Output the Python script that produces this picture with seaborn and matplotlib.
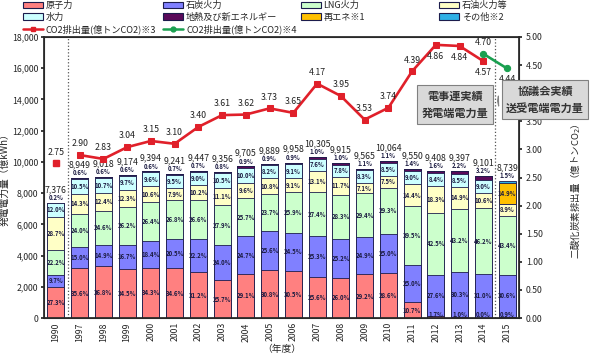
import numpy as np
import matplotlib
matplotlib.use("Agg")
import matplotlib.pyplot as plt
import seaborn as sns
from matplotlib.patches import Patch
from matplotlib.lines import Line2D
from matplotlib.ticker import FuncFormatter

# ---------------- Data ---------------- #
years = ["1990", "1997", "1998", "1999", "2000", "2001", "2002", "2003", "2004", "2005",
         "2006", "2007", "2008", "2009", "2010", "2011", "2012", "2013", "2014", "2015"]
totals = [7376, 8949, 9018, 9174, 9394, 9241, 9447, 9356, 9705, 9889,
          9958, 10305, 9915, 9565, 10064, 9550, 9408, 9397, 9101, 8739]

# share of generation (%)
nuclear = [27.3, 35.6, 36.8, 34.5, 34.3, 34.6, 31.2, 25.7, 29.1, 30.8,
           30.5, 25.6, 26.0, 29.2, 28.6, 10.7, 1.7, 1.0, 0.0, 0.9]
coal = [9.7, 15.0, 14.9, 16.7, 18.4, 20.5, 22.2, 24.0, 24.7, 25.6,
        24.5, 25.3, 25.2, 24.9, 25.0, 25.0, 27.6, 30.3, 31.0, 30.6]
lng = [22.2, 24.0, 24.6, 26.2, 26.4, 26.8, 26.6, 27.9, 25.7, 23.7,
       25.9, 27.4, 28.3, 29.4, 29.3, 39.5, 42.5, 43.2, 46.2, 43.4]
oil = [28.7, 14.3, 12.4, 12.3, 10.6, 7.9, 10.2, 11.1, 9.6, 10.8,
       9.1, 13.1, 11.7, 7.1, 7.5, 14.4, 18.3, 14.9, 10.6, 8.9]
hydro = [12.0, 10.5, 10.7, 9.7, 9.6, 9.5, 9.0, 10.5, 10.0, 8.2,
         9.1, 7.6, 7.8, 8.3, 8.5, 9.0, 8.4, 8.5, 9.0, 0.0]
geo_new = [0.2, 0.6, 0.6, 0.6, 0.6, 0.7, 0.7, 0.8, 0.9, 0.9,
           0.9, 1.0, 1.0, 1.1, 1.1, 1.4, 1.6, 2.2, 3.2, 0.0]
renew = [0.0] * 19 + [14.9]
other = [0.0] * 19 + [1.5]

# CO2 emissions (100 million t-CO2)
co2_fepc = [2.75, 2.90, 2.83, 3.04, 3.15, 3.10, 3.40, 3.61, 3.62, 3.73,
            3.65, 4.17, 3.95, 3.53, 3.74, 4.39, 4.86, 4.84, 4.57]
co2_council_years = ["2014", "2015"]
co2_council = [4.70, 4.44]

layer_names = ["原子力", "石炭火力", "LNG火力", "石油火力等", "水力",
               "地熱及び新エネルギー", "再エネ※1", "その他※2"]
layer_pcts = [nuclear, coal, lng, oil, hydro, geo_new, renew, other]
layer_colors = ["#ff8080", "#8080ff", "#ccffcc", "#ffffc6", "#ccffff",
                "#5a0a5a", "#ffc000", "#2fb0e6"]
edge = "#1c1c4c"

# ---------------- Style ---------------- #
sns.set_theme(style="white")
plt.rcParams["font.family"] = ["Noto Sans CJK JP", "DejaVu Sans"]

fig = plt.figure(figsize=(5.9, 3.57), dpi=100)
ax = fig.add_axes([0.0746, 0.1092, 0.805, 0.7872])

n = len(years)
pos = np.arange(n)
tot = np.array(totals, dtype=float)

# cumulative heights per layer
cums = []
cum = np.zeros(n)
for pct in layer_pcts:
    cum = cum + tot * np.array(pct) / 100.0
    cums.append(cum.copy())

# draw from the top layer down so lower layers overlay
for color, c in reversed(list(zip(layer_colors, cums))):
    sns.barplot(x=years, y=c, order=years, color=color, saturation=1,
                width=0.72, edgecolor=edge, linewidth=0.6, ax=ax)

ax.set_xlim(-0.5, n - 0.5)
ax.set_ylim(0, 18000)
ax.set_yticks(np.arange(0, 18001, 2000))
ax.yaxis.set_major_formatter(FuncFormatter(lambda v, p: f"{int(v):,}"))
ax.tick_params(axis="y", labelsize=6.3, length=2, pad=2)
ax.tick_params(axis="x", labelsize=6.3, rotation=90, length=0, pad=3)
for s in ax.spines.values():
    s.set_color("#404040")
    s.set_linewidth(0.8)
ax.set_ylabel("発電電力量（億kWh）", fontsize=7)
ax.yaxis.set_label_coords(-0.072, 0.5)
ax.set_xlabel("（年度）", fontsize=7, labelpad=2)

ax.axvline(0.5, color="#555555", ls=":", lw=0.9)
ax.axvline(n - 1.5, color="#555555", ls=":", lw=0.9)

# percentage labels in bars
for i in range(n):
    seg_bottom = 0.0
    nonzero = [k for k, pct in enumerate(layer_pcts) if pct[i] > 0]
    top_k = nonzero[-1]
    for k, pct in enumerate(layer_pcts):
        v = pct[i]
        h = tot[i] * v / 100.0
        if k == top_k:
            ax.text(i, cums[-1][i] + 120, f"{v:.1f}%", ha="center", va="bottom",
                    fontsize=4.3, fontweight="bold", color="#1a1a40")
        elif v > 0 or k == 0:
            y = seg_bottom + h / 2
            if k == 0 and v < 3:
                y = 230
            ax.text(i, y, f"{v:.1f}%", ha="center", va="center",
                    fontsize=4.3, fontweight="bold", color="#1a1a40")
        seg_bottom += h
    ax.text(i, cums[-1][i] + 560, f"{totals[i]:,}", ha="center", va="bottom",
            fontsize=6.3, color="#222222")

# ---------------- CO2 axis ---------------- #
ax2 = ax.twinx()
ax2.set_ylim(0, 5)
ax2.set_yticks(np.arange(0, 5.01, 0.5))
# the 4.00 label sits under the callout box in the original
ax2.yaxis.set_major_formatter(FuncFormatter(lambda v, p: "" if abs(v - 4.0) < 1e-6 else f"{v:.2f}"))
ax2.tick_params(axis="y", labelsize=6.3, length=2, pad=3)
ax2.set_ylabel("二酸化炭素排出量（億トンCO$_2$）", fontsize=6.8)
ax2.yaxis.set_label_coords(1.103, 0.45)
ax2.grid(False)

red = "#e0202a"
green = "#1aa050"
ax2.plot(pos[0], co2_fepc[0], marker="s", ms=4, color=red, ls="none")
sns.lineplot(x=pos[1:len(co2_fepc)], y=co2_fepc[1:], color=red, lw=1.9,
             marker="s", markersize=4, markeredgecolor=red, ax=ax2)
green_pos = [years.index(y) for y in co2_council_years]
sns.lineplot(x=green_pos, y=co2_council, color=green, lw=1.9,
             marker="o", markersize=4.5, markeredgecolor=green, ax=ax2)

below = {"2012", "2013", "2014"}
for i, v in enumerate(co2_fepc):
    if years[i] in below:
        ax2.text(i, v - 0.12, f"{v:.2f}", ha="center", va="top", fontsize=6.3, color="#222222")
    else:
        ax2.text(i, v + 0.12, f"{v:.2f}", ha="center", va="bottom", fontsize=6.3, color="#222222")
ax2.text(green_pos[0], co2_council[0] + 0.12, f"{co2_council[0]:.2f}", ha="center",
         va="bottom", fontsize=6.3, color="#222222")
ax2.text(green_pos[1], co2_council[1] - 0.12, f"{co2_council[1]:.2f}", ha="center",
         va="top", fontsize=6.3, color="#222222")

# callouts
box = dict(boxstyle="square,pad=0.4", fc="#d9d9d9", ec="#808080", lw=0.8)
wedge = dict(arrowstyle="wedge,tail_width=0.9,shrink_factor=0.5",
             fc="#d9d9d9", ec="#808080", lw=0.8)
ax2.annotate("電事連実績\n発電端電力量", xy=(18.35, 3.86), xytext=(16.8, 3.80),
             ha="center", va="center", fontsize=8, fontweight="bold", color="#333333",
             linespacing=1.4, bbox=box, arrowprops=wedge, annotation_clip=False)
ax2.annotate("協議会実績\n送受電端電力量", xy=(18.6, 3.86), xytext=(20.6, 3.88),
             ha="center", va="center", fontsize=8, fontweight="bold", color="#333333",
             linespacing=1.4, bbox=box, arrowprops=wedge, annotation_clip=False)

# ---------------- Legend ---------------- #
def patch(i):
    return Patch(facecolor=layer_colors[i], edgecolor=edge, linewidth=0.8, label=layer_names[i])

h_red = Line2D([], [], color=red, lw=1.8, marker="s", ms=3.5, label="CO2排出量(億トンCO2)※3")
h_green = Line2D([], [], color=green, lw=1.8, marker="o", ms=3.5, label="CO2排出量(億トンCO2)※4")
legend_cols = [[patch(0), patch(4), h_red],
               [patch(1), patch(5), h_green],
               [patch(2), patch(6)],
               [patch(3), patch(7)]]
col_x = [0.037, 0.275, 0.508, 0.742]
for hs, x in zip(legend_cols, col_x):
    fig.legend(handles=hs, loc="upper left", bbox_to_anchor=(x, 1.0),
               frameon=False, fontsize=6.6, handlelength=2.2, handleheight=0.7,
               handletextpad=0.3, labelspacing=0.3, borderpad=0.1, borderaxespad=0)

fig.savefig("out.png", dpi=100)
